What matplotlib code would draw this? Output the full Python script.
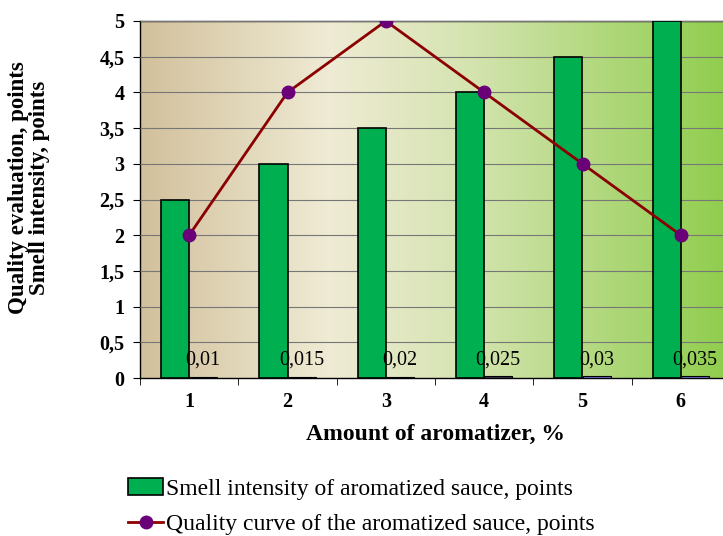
import numpy as np
import matplotlib.pyplot as plt
from matplotlib.colors import LinearSegmentedColormap

categories = ['1', '2', '3', '4', '5', '6']
smell = [2.5, 3, 3.5, 4, 4.5, 5]
amount = [0.01, 0.015, 0.02, 0.025, 0.03, 0.035]
amount_labels = ['0,01', '0,015', '0,02', '0,025', '0,03', '0,035']
quality = [2, 4, 5, 4, 3, 2]
yticks = [0, 0.5, 1, 1.5, 2, 2.5, 3, 3.5, 4, 4.5, 5]
ytick_labels = ['0', '0,5', '1', '1,5', '2', '2,5', '3', '3,5', '4', '4,5', '5']

plt.rcParams['font.family'] = ['Liberation Serif', 'DejaVu Serif']

fig = plt.figure(figsize=(7.23, 5.36), dpi=100)
ax = fig.add_axes([140/723, 1-378/536, 590/723, 357/536])

# background gradient
bg = LinearSegmentedColormap.from_list('bg', [(0, '#d2c09c'), (0.32, '#efebd4'),
                                            (0.55, '#d6e4b2'), (1, '#8fcd4c')])
grad = np.linspace(0, 1, 256).reshape(1, -1)
ax.imshow(grad, cmap=bg, aspect='auto', extent=[0, 1, 0, 1],
          transform=ax.transAxes, zorder=0)

x = np.arange(len(categories))
w = 0.285
bars = ax.bar(x - w/2, smell, w, color='#00b050', edgecolor='black', linewidth=1.2, zorder=3)
small_colors = ['#222222', '#222222', '#222222', '#333355', '#6a6acc', '#6a6acc']
ax.bar(x + w/2, amount, w, color=small_colors, edgecolor='black', linewidth=0.8, zorder=3)
for xi, v, lab in zip(x, amount, amount_labels):
    ax.text(xi + w/2, 0.12, lab, ha='center', va='bottom', fontsize=14.5, zorder=5)

line, = ax.plot(x, quality, color='#8b0000', linewidth=2.0, marker='o', markersize=9,
                markerfacecolor='#6a0078', markeredgecolor='#6a0078', zorder=4)

ax.set_xlim(-0.5, 5.5)
ax.set_ylim(0, 5)
ax.set_yticks(yticks)
ax.set_yticklabels(ytick_labels, fontsize=14.5, fontweight='bold')
ax.set_xticks(x)
ax.set_xticklabels(categories, fontsize=14.5, fontweight='bold')
ax.set_xticks(np.arange(-0.5, 6, 1), minor=True)
ax.tick_params(axis='x', which='major', length=0, pad=10)
ax.tick_params(axis='x', which='minor', length=5, direction='out')
ax.tick_params(axis='y', length=5, direction='out', pad=6)
ax.grid(axis='y', color='#777777', linewidth=0.8, zorder=1)
ax.set_axisbelow(False)
for s in ax.spines.values():
    s.set_linewidth(1.0)

ax.set_xlabel('Amount of aromatizer, %', fontsize=17, fontweight='bold', labelpad=9)
fig.text(29/723, 1-188/536, 'Quality evaluation, points\nSmell intensity, points',
         rotation=90, ha='center', va='center', multialignment='center',
         fontsize=16.5, fontweight='bold', linespacing=0.95)

fig.legend([bars, line], ['Smell intensity of aromatized sauce, points',
                          'Quality curve of the aromatized sauce, points'],
           loc='upper left', bbox_to_anchor=(128/723, 1-478/536), frameon=False,
           fontsize=17, handlelength=1.5, handletextpad=0.1, labelspacing=0.6,
           borderaxespad=0, borderpad=0)

fig.savefig('out.png', dpi=100)
